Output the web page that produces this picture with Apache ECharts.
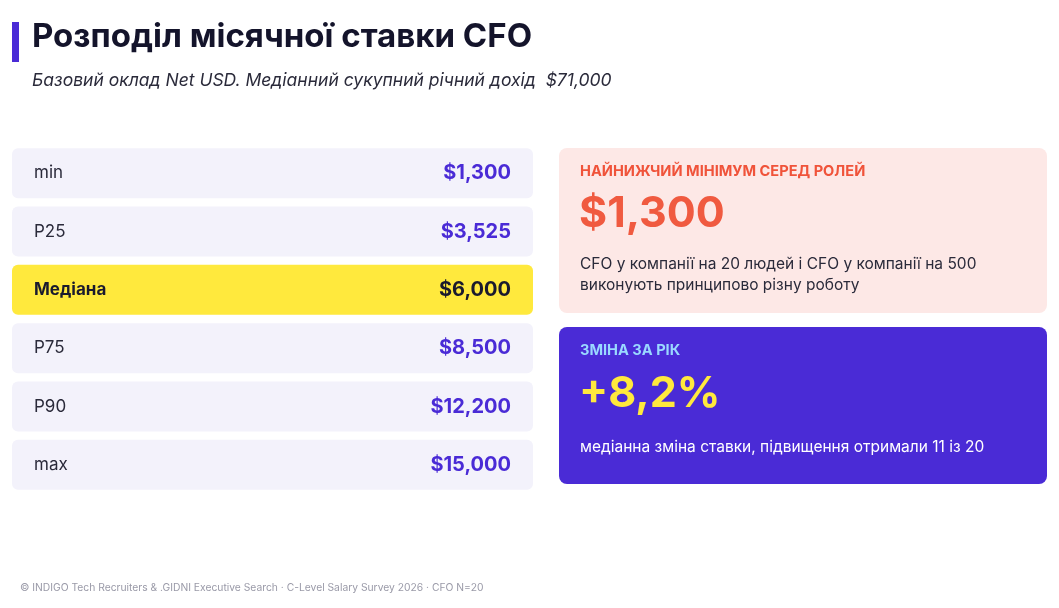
<!DOCTYPE html>
<html><head><meta charset="utf-8">
<script src="https://cdn.jsdelivr.net/npm/echarts@6/dist/echarts.min.js"></script>
<style>html,body{margin:0;padding:0;background:#fff}#c{width:1059px;height:608px}</style>
</head><body><div id="c"></div>
<script>
const categories = ['min','P25','Медіана','P75','P90','max'];
const values = [1300,3525,6000,8500,12200,15000];
const highlightIndex = 2;
const minValue = '$1,300';
const yoyChange = '+8,2%';
const F = 'Inter, sans-serif';
const fmt = v => '$' + v.toLocaleString('en-US');
const chart = echarts.init(document.getElementById('c'));
chart.setOption({
  animation:false,
  grid:{left:12,width:521,top:144,height:350},
  xAxis:{type:'value',min:0,max:1,show:false},
  yAxis:{type:'category',data:categories,inverse:true,show:false},
  series:[
    {type:'bar',barWidth:50,silent:true,
     data:categories.map((c,i)=>({value:1,itemStyle:{color:i===highlightIndex?'#ffe93d':'#f3f2fb',borderRadius:6},
       label:{fontWeight:i===highlightIndex?'bold':'normal',color:i===highlightIndex?'#1a1a2e':'#2a2a3a'}})),
     label:{show:true,position:'insideLeft',distance:22,fontFamily:F,fontSize:17,formatter:p=>categories[p.dataIndex]}},
    {type:'bar',barWidth:50,barGap:'-100%',silent:true,
     data:values.map((v,i)=>({value:1,itemStyle:{color:'transparent'},
       label:{color:i===highlightIndex?'#1a1a2e':'#4a2bd6'}})),
     label:{show:true,position:'insideRight',distance:22,fontFamily:F,fontSize:20,fontWeight:'bold',formatter:p=>fmt(values[p.dataIndex])}}
  ],
  graphic:[
    {type:'rect',shape:{x:12,y:22,width:7,height:40},style:{fill:'#4a2bd6'}},
    {type:'text',x:32,y:21,style:{text:'Розподіл місячної ставки CFO',font:'bold 33px '+F,fill:'#14142b'}},
    {type:'text',x:32,y:72,style:{text:'Базовий оклад Net USD. Медіанний сукупний річний дохід  $71,000',font:'italic 17.5px '+F,fill:'#2a2a3a'}},
    {type:'rect',shape:{x:559,y:148,width:488,height:165,r:8},style:{fill:'#fde8e6'}},
    {type:'text',x:580,y:164,style:{text:'НАЙНИЖЧИЙ МІНІМУМ СЕРЕД РОЛЕЙ',font:'bold 14.6px '+F,fill:'#f0533a'}},
    {type:'text',x:579,y:193,style:{text:minValue,font:'bold 43px '+F,fill:'#f05a40'}},
    {type:'text',x:580,y:254,style:{text:'CFO у компанії на 20 людей і CFO у компанії на 500\nвиконують принципово різну роботу',font:'15.5px '+F,fill:'#2a2a3a',lineHeight:21}},
    {type:'rect',shape:{x:559,y:327,width:488,height:157,r:8},style:{fill:'#4a2bd6'}},
    {type:'text',x:580,y:343,style:{text:'ЗМІНА ЗА РІК',font:'bold 14.6px '+F,fill:'#9ad8ff'}},
    {type:'text',x:579,y:373,style:{text:yoyChange,font:'bold 43px '+F,fill:'#ffe93d'}},
    {type:'text',x:580,y:439,style:{text:'медіанна зміна ставки, підвищення отримали 11 із 20',font:'15.5px '+F,fill:'#ffffff'}},
    {type:'text',x:20,y:583,style:{text:'© INDIGO Tech Recruiters & .GIDNI Executive Search · C-Level Salary Survey 2026 · CFO N=20',font:'10.3px '+F,fill:'#9a9aa8'}}
  ]
});
</script></body></html>
